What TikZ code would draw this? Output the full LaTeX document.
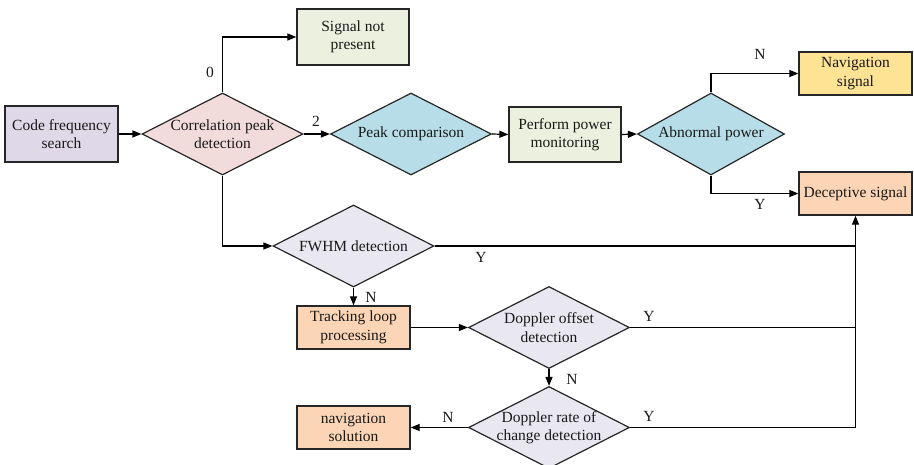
\documentclass[tikz,border=0pt]{standalone}
\usepackage{fontspec}
\setmainfont{Liberation Serif}
\usetikzlibrary{shapes.geometric,arrows.meta}
\definecolor{cPurple}{HTML}{DED8E8}
\definecolor{cPink}{HTML}{F2DCDB}
\definecolor{cGreen}{HTML}{EBF1DE}
\definecolor{cBlue}{HTML}{B7DEE8}
\definecolor{cYellow}{HTML}{FFE394}
\definecolor{cPeach}{HTML}{FBD5B5}
\definecolor{cGrey}{HTML}{E9E7F0}
\definecolor{cLine}{HTML}{262626}
\tikzset{
  txt/.style={font=\fontsize{15.5}{18.5}\selectfont, align=center, text=black!90},
  box/.style={draw=cLine, line width=1.3pt, rectangle, inner sep=0pt, txt},
  dia/.style={draw=cLine, line width=1.2pt, diamond, inner sep=0pt, minimum width=161pt, minimum height=82pt},
  conn/.style={draw=black, line width=1.2pt},
  arr/.style={conn, -{Triangle[length=9pt,width=7pt]}},
  lab/.style={txt, inner sep=0pt}
}
\begin{document}
\begin{tikzpicture}[x=1pt,y=-1pt]
\useasboundingbox (0,0) rectangle (914,465);
% boxes
\node[box, fill=cPurple, minimum width=113pt, minimum height=56pt] (cfs) at (61.5,134) {Code frequency\\search};
\node[box, fill=cGreen, minimum width=112pt, minimum height=56pt] (snp) at (353,37) {Signal not\\present};
\node[box, fill=cGreen, minimum width=112pt, minimum height=55pt] (ppm) at (565,134.5) {Perform power\\monitoring};
\node[box, fill=cYellow, minimum width=113pt, minimum height=43pt] (ns) at (855.5,73.5) {Navigation\\signal};
\node[box, fill=cPeach, minimum width=113pt, minimum height=43pt] (ds) at (855.5,193.5) {Deceptive signal};
\node[box, fill=cPeach, minimum width=113pt, minimum height=43pt] (tl) at (353.5,327.5) {Tracking loop\\processing};
\node[box, fill=cPeach, minimum width=113pt, minimum height=43pt] (nsol) at (353.5,427.5) {navigation\\solution};
% diamonds
\node[dia, fill=cPink, label={[txt]center:Correlation peak\\detection}] (cpd) at (222.5,134) {};
\node[dia, fill=cBlue, label={[txt]center:Peak comparison}] (pc) at (411,134) {};
\node[dia, fill=cBlue, minimum width=147pt, label={[txt]center:Abnormal power}] (ap) at (711,134) {};
\node[dia, fill=cGrey, label={[txt]center:FWHM detection}] (fw) at (353.5,246) {};
\node[dia, fill=cGrey, label={[txt]center:Doppler offset\\detection}] (do) at (549,327.5) {};
\node[dia, fill=cGrey, label={[txt]center:Doppler rate of\\change detection}] (dr) at (549,427.5) {};
% connectors
\draw[arr] (cfs.east) -- (cpd.west);
\draw[arr] (cpd.north) |- (snp.west);
\draw[arr] (cpd.east) -- (pc.west);
\draw[arr] (pc.east) -- (ppm.west);
\draw[arr] (ppm.east) -- (ap.west);
\draw[arr] (ap.north) |- (ns.west);
\draw[arr] (ap.south) |- (ds.west);
\draw[arr] (cpd.south) |- (fw.west);
\draw[arr] (fw.south) -- (tl.north);
\draw[arr] (tl.east) -- (do.west);
\draw[arr] (do.south) -- (dr.north);
\draw[arr] (dr.west) -- (nsol.east);
\draw[arr] (dr.east) -| (ds.south);
\draw[conn] (fw.east) -- (fw.east -| ds.south);
\draw[conn] (do.east) -- (do.east -| ds.south);
% labels
\node[lab] (l0) at (210,72) {0};
\node[lab] (l2) at (316,121) {2};
\node[lab] (lapn) at (760,54) {N};
\node[lab] (lapy) at (760,204) {Y};
\node[lab] (lfwy) at (481,257) {Y};
\node[lab] (lfwn) at (371,297) {N};
\node[lab] (ldoy) at (649,316) {Y};
\node[lab] (ldon) at (572,379) {N};
\node[lab] (ldry) at (649,416) {Y};
\node[lab] (ldrn) at (448,417) {N};
\end{tikzpicture}
\end{document}
